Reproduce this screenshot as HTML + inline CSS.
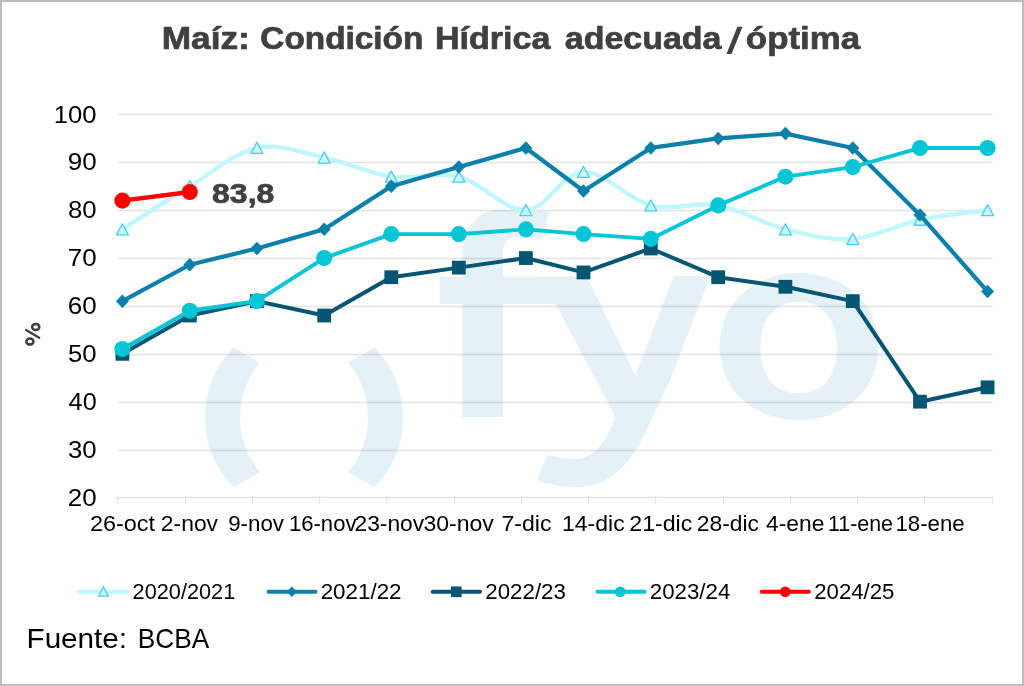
<!DOCTYPE html>
<html><head><meta charset="utf-8"><style>
html,body{margin:0;padding:0;background:#fff;}
body{width:1024px;height:686px;overflow:hidden;}
svg{display:block;will-change:transform;}
</style></head><body>
<svg width="1024" height="686" viewBox="0 0 1024 686" font-family="Liberation Sans">
<rect x="1" y="1" width="1022" height="684" fill="#fff" stroke="#bdbdbd" stroke-width="2"/>
<g><path d="M233.8,347.2 A99.0,99.0 0 0 0 233.8,487.4 L259.5,471.9 A86.2,86.2 0 0 1 259.5,362.7 Z" fill="#e4f1f7"/><path d="M374.2,347.2 A99.0,99.0 0 0 1 374.2,487.4 L348.5,471.9 A86.2,86.2 0 0 0 348.5,362.7 Z" fill="#e4f1f7"/><path d="M462.2,416.9 L462.2,304 L439.8,304 L439.8,276.7 L462.2,276.7 L462.2,262 C462.2,232 474,210 500,209.8 L549.4,211.8 L541.8,238.1 L516,237.3 C507,237.3 502.8,243 502.8,256 L502.8,276.7 L556,276.7 L556,304 L502.8,304 L502.8,416.9 Z" fill="#e4f1f7"/><path d="M540.8,276.4 L586.7,276.4 L635.4,375.4 L673.8,275.7 L710.6,275.7 L670,380 L647.3,428.6 C630,468 605,487.5 577,487.3 C562,487.2 548,484 536.7,480.6 L547.6,454.6 C556,457.5 566,459 575,459 C592,459 604,446 615.5,416.9 Z" fill="#e4f1f7"/><path fill-rule="evenodd" d="M719.70,346.60 C719.70,303.97 753.05,273.10 799.10,273.10 C845.15,273.10 878.50,303.97 878.50,346.60 C878.50,389.23 845.15,420.10 799.10,420.10 C753.05,420.10 719.70,389.23 719.70,346.60 Z M760.40,347.40 C760.40,318.94 774.95,301.50 798.70,301.50 C822.45,301.50 837.00,318.94 837.00,347.40 C837.00,375.86 822.45,393.30 798.70,393.30 C774.95,393.30 760.40,375.86 760.40,347.40 Z" fill="#e4f1f7"/></g><g fill="#000" fill-opacity="0.105"><rect x="118" y="496.70" width="874.5" height="1.6"/><rect x="118" y="449.70" width="874.5" height="1.6"/><rect x="118" y="401.70" width="874.5" height="1.6"/><rect x="118" y="353.70" width="874.5" height="1.6"/><rect x="118" y="305.70" width="874.5" height="1.6"/><rect x="118" y="257.70" width="874.5" height="1.6"/><rect x="118" y="209.70" width="874.5" height="1.6"/><rect x="118" y="161.70" width="874.5" height="1.6"/><rect x="118" y="113.70" width="874.5" height="1.6"/><rect x="117" y="497" width="1.2" height="7"/><rect x="185" y="497" width="1.2" height="7"/><rect x="252" y="497" width="1.2" height="7"/><rect x="319" y="497" width="1.2" height="7"/><rect x="386" y="497" width="1.2" height="7"/><rect x="454" y="497" width="1.2" height="7"/><rect x="521" y="497" width="1.2" height="7"/><rect x="588" y="497" width="1.2" height="7"/><rect x="655" y="497" width="1.2" height="7"/><rect x="723" y="497" width="1.2" height="7"/><rect x="790" y="497" width="1.2" height="7"/><rect x="857" y="497" width="1.2" height="7"/><rect x="924" y="497" width="1.2" height="7"/><rect x="992" y="497" width="1.2" height="7"/></g><path d="M122.40,229.34 C133.63,222.16 167.38,199.82 189.80,186.25 C212.22,172.69 234.50,152.74 256.90,147.95 C279.30,143.16 301.80,152.74 324.20,157.53 C346.60,162.31 368.87,173.49 391.30,176.68 C413.73,179.87 436.37,171.09 458.80,176.68 C481.23,182.26 505.12,210.99 525.90,210.19 C546.68,209.39 562.68,172.69 583.50,171.89 C604.32,171.09 628.35,199.82 650.80,205.40 C673.25,210.99 695.77,201.41 718.20,205.40 C740.63,209.39 762.97,223.75 785.40,229.34 C807.83,234.93 830.37,240.51 852.80,238.91 C875.23,237.32 897.53,224.55 920.00,219.76 C942.47,214.98 976.33,211.79 987.60,210.19" fill="none" stroke="#c0f7fe" stroke-width="4.4" stroke-linecap="round" stroke-linejoin="round"/><g fill="#c8f7fd" stroke="#4ccbf6" stroke-width="1.3" stroke-linejoin="round"><path d="M122.40,223.74 L128.40,234.84 L116.40,234.84 Z"/><path d="M189.80,180.65 L195.80,191.75 L183.80,191.75 Z"/><path d="M256.90,142.35 L262.90,153.45 L250.90,153.45 Z"/><path d="M324.20,151.93 L330.20,163.03 L318.20,163.03 Z"/><path d="M391.30,171.08 L397.30,182.18 L385.30,182.18 Z"/><path d="M458.80,171.08 L464.80,182.18 L452.80,182.18 Z"/><path d="M525.90,204.59 L531.90,215.69 L519.90,215.69 Z"/><path d="M583.50,166.29 L589.50,177.39 L577.50,177.39 Z"/><path d="M650.80,199.80 L656.80,210.90 L644.80,210.90 Z"/><path d="M718.20,199.80 L724.20,210.90 L712.20,210.90 Z"/><path d="M785.40,223.74 L791.40,234.84 L779.40,234.84 Z"/><path d="M852.80,233.31 L858.80,244.41 L846.80,244.41 Z"/><path d="M920.00,214.16 L926.00,225.26 L914.00,225.26 Z"/><path d="M987.60,204.59 L993.60,215.69 L981.60,215.69 Z"/></g><polyline points="122.40,301.15 189.80,264.77 256.90,248.49 324.20,229.34 391.30,186.25 458.80,167.10 525.90,147.95 583.50,191.04 650.80,147.95 718.20,138.38 785.40,133.59 852.80,147.95 920.00,214.98 987.60,291.58" fill="none" stroke="#0b80aa" stroke-width="4.2" stroke-linejoin="round" stroke-linecap="round"/><g fill="#0b80aa"><path d="M122.40,294.40 L128.95,301.15 L122.40,307.90 L115.85,301.15 Z"/><path d="M189.80,258.02 L196.35,264.77 L189.80,271.52 L183.25,264.77 Z"/><path d="M256.90,241.74 L263.45,248.49 L256.90,255.24 L250.35,248.49 Z"/><path d="M324.20,222.59 L330.75,229.34 L324.20,236.09 L317.65,229.34 Z"/><path d="M391.30,179.50 L397.85,186.25 L391.30,193.00 L384.75,186.25 Z"/><path d="M458.80,160.35 L465.35,167.10 L458.80,173.85 L452.25,167.10 Z"/><path d="M525.90,141.20 L532.45,147.95 L525.90,154.70 L519.35,147.95 Z"/><path d="M583.50,184.29 L590.05,191.04 L583.50,197.79 L576.95,191.04 Z"/><path d="M650.80,141.20 L657.35,147.95 L650.80,154.70 L644.25,147.95 Z"/><path d="M718.20,131.63 L724.75,138.38 L718.20,145.13 L711.65,138.38 Z"/><path d="M785.40,126.84 L791.95,133.59 L785.40,140.34 L778.85,133.59 Z"/><path d="M852.80,141.20 L859.35,147.95 L852.80,154.70 L846.25,147.95 Z"/><path d="M920.00,208.23 L926.55,214.98 L920.00,221.73 L913.45,214.98 Z"/><path d="M987.60,284.83 L994.15,291.58 L987.60,298.33 L981.05,291.58 Z"/></g><polyline points="122.40,353.81 189.80,315.51 256.90,301.15 324.20,315.51 391.30,277.21 458.80,267.64 525.90,258.06 583.50,272.43 650.80,248.49 718.20,277.21 785.40,286.79 852.80,301.15 920.00,401.69 987.60,387.33" fill="none" stroke="#055573" stroke-width="4.0" stroke-linejoin="round" stroke-linecap="round"/><g fill="#055573"><rect x="115.50" y="346.91" width="13.8" height="13.8"/><rect x="182.90" y="308.62" width="13.8" height="13.8"/><rect x="250.00" y="294.25" width="13.8" height="13.8"/><rect x="317.30" y="308.62" width="13.8" height="13.8"/><rect x="384.40" y="270.31" width="13.8" height="13.8"/><rect x="451.90" y="260.74" width="13.8" height="13.8"/><rect x="519.00" y="251.16" width="13.8" height="13.8"/><rect x="576.60" y="265.53" width="13.8" height="13.8"/><rect x="643.90" y="241.59" width="13.8" height="13.8"/><rect x="711.30" y="270.31" width="13.8" height="13.8"/><rect x="778.50" y="279.89" width="13.8" height="13.8"/><rect x="845.90" y="294.25" width="13.8" height="13.8"/><rect x="913.10" y="394.79" width="13.8" height="13.8"/><rect x="980.70" y="380.43" width="13.8" height="13.8"/></g><polyline points="122.40,349.03 189.80,310.73 256.90,301.15 324.20,258.06 391.30,234.13 458.80,234.13 525.90,229.34 583.50,234.13 650.80,238.91 718.20,205.40 785.40,176.68 852.80,167.10 920.00,147.95 987.60,147.95" fill="none" stroke="#05c5d7" stroke-width="3.9" stroke-linejoin="round" stroke-linecap="round"/><g fill="#05c5d7"><circle cx="122.40" cy="349.03" r="8.05"/><circle cx="189.80" cy="310.73" r="8.05"/><circle cx="256.90" cy="301.15" r="8.05"/><circle cx="324.20" cy="258.06" r="8.05"/><circle cx="391.30" cy="234.13" r="8.05"/><circle cx="458.80" cy="234.13" r="8.05"/><circle cx="525.90" cy="229.34" r="8.05"/><circle cx="583.50" cy="234.13" r="8.05"/><circle cx="650.80" cy="238.91" r="8.05"/><circle cx="718.20" cy="205.40" r="8.05"/><circle cx="785.40" cy="176.68" r="8.05"/><circle cx="852.80" cy="167.10" r="8.05"/><circle cx="920.00" cy="147.95" r="8.05"/><circle cx="987.60" cy="147.95" r="8.05"/></g><polyline points="122.40,200.62 189.80,192.00" fill="none" stroke="#ff0000" stroke-width="4.4" stroke-linejoin="round" stroke-linecap="round"/><g fill="#ff0000"><circle cx="122.40" cy="200.62" r="8.05"/><circle cx="189.80" cy="192.00" r="8.05"/></g><line x1="79.3" y1="591.8" x2="127.4" y2="591.8" stroke="#c0f7fe" stroke-width="3.9" stroke-linecap="round"/><path d="M103.5,587 L108.4,596.2 L98.6,596.2 Z" fill="#c8f7fd" stroke="#4ccbf6" stroke-width="1.3"/><line x1="268.5" y1="591.8" x2="315.5" y2="591.8" stroke="#0b80aa" stroke-width="3.9" stroke-linecap="round"/><path d="M291.9,586.55 L297.15,591.8 L291.9,597.05 L286.65,591.8 Z" fill="#0b80aa"/><line x1="432.7" y1="591.8" x2="480.1" y2="591.8" stroke="#055573" stroke-width="3.9" stroke-linecap="round"/><rect x="450.95" y="586.4499999999999" width="10.7" height="10.7" fill="#055573"/><line x1="597.5" y1="591.8" x2="644.6" y2="591.8" stroke="#05c5d7" stroke-width="3.9" stroke-linecap="round"/><circle cx="620.3" cy="591.8" r="5.35" fill="#05c5d7"/><line x1="761.8" y1="591.8" x2="808.9" y2="591.8" stroke="#ff0000" stroke-width="3.9" stroke-linecap="round"/><circle cx="785.2" cy="591.8" r="5.35" fill="#ff0000"/><g font-family="Liberation Sans"><text transform="translate(161.68,49.30) scale(1.1380,1)" font-size="31.0" font-weight="bold" fill="#404040" stroke="#404040" stroke-width="0.7" stroke-linejoin="round">Maíz:</text><text transform="translate(260.32,49.30) scale(1.0762,1)" font-size="31.0" font-weight="bold" fill="#404040" stroke="#404040" stroke-width="0.7" stroke-linejoin="round">Condición</text><text transform="translate(434.96,49.30) scale(1.0995,1)" font-size="31.0" font-weight="bold" fill="#404040" stroke="#404040" stroke-width="0.7" stroke-linejoin="round">Hídrica</text><text transform="translate(564.73,49.30) scale(1.0971,1)" font-size="31.0" font-weight="bold" fill="#404040" stroke="#404040" stroke-width="0.7" stroke-linejoin="round">adecuada</text><text transform="translate(745.86,49.30) scale(1.1241,1)" font-size="31.0" font-weight="bold" fill="#404040" stroke="#404040" stroke-width="0.7" stroke-linejoin="round">óptima</text><text transform="translate(212.09,202.60) scale(1.1706,1)" font-size="27.3" font-weight="bold" fill="#404040" stroke="#404040" stroke-width="0.7" stroke-linejoin="round">83,8</text><text transform="translate(26.53,648.40) scale(1.0480,1)" font-size="28.3" font-weight="normal" fill="#000">Fuente:</text><text transform="translate(137.80,648.40) scale(0.9276,1)" font-size="28.3" font-weight="normal" fill="#000">BCBA</text><text transform="translate(67.80,505.54) scale(1.0825,1)" font-size="24.0" font-weight="normal" fill="#000">20</text><text transform="translate(68.07,457.67) scale(1.0720,1)" font-size="24.0" font-weight="normal" fill="#000">30</text><text transform="translate(68.60,409.79) scale(1.0516,1)" font-size="24.0" font-weight="normal" fill="#000">40</text><text transform="translate(68.07,361.91) scale(1.0720,1)" font-size="24.0" font-weight="normal" fill="#000">50</text><text transform="translate(67.80,314.04) scale(1.0825,1)" font-size="24.0" font-weight="normal" fill="#000">60</text><text transform="translate(67.80,266.17) scale(1.0825,1)" font-size="24.0" font-weight="normal" fill="#000">70</text><text transform="translate(68.07,218.29) scale(1.0720,1)" font-size="24.0" font-weight="normal" fill="#000">80</text><text transform="translate(67.80,170.41) scale(1.0825,1)" font-size="24.0" font-weight="normal" fill="#000">90</text><text transform="translate(53.75,122.54) scale(1.0699,1)" font-size="24.0" font-weight="normal" fill="#000">100</text><text transform="translate(89.93,531.20) scale(1.0502,1)" font-size="22.3" font-weight="normal" fill="#000">26-oct</text><text transform="translate(160.86,531.20) scale(1.0250,1)" font-size="22.3" font-weight="normal" fill="#000">2-nov</text><text transform="translate(228.18,531.20) scale(1.0012,1)" font-size="22.3" font-weight="normal" fill="#000">9-nov</text><text transform="translate(288.93,531.20) scale(0.9905,1)" font-size="22.3" font-weight="normal" fill="#000">16-nov</text><text transform="translate(354.46,531.20) scale(1.0224,1)" font-size="22.3" font-weight="normal" fill="#000">23-nov</text><text transform="translate(423.48,531.20) scale(1.0324,1)" font-size="22.3" font-weight="normal" fill="#000">30-nov</text><text transform="translate(501.44,531.20) scale(1.0363,1)" font-size="22.3" font-weight="normal" fill="#000">7-dic</text><text transform="translate(561.96,531.20) scale(1.0326,1)" font-size="22.3" font-weight="normal" fill="#000">14-dic</text><text transform="translate(629.24,531.20) scale(1.0395,1)" font-size="22.3" font-weight="normal" fill="#000">21-dic</text><text transform="translate(696.76,531.20) scale(1.0243,1)" font-size="22.3" font-weight="normal" fill="#000">28-dic</text><text transform="translate(766.04,531.20) scale(1.0229,1)" font-size="22.3" font-weight="normal" fill="#000">4-ene</text><text transform="translate(827.99,531.20) scale(0.9585,1)" font-size="22.3" font-weight="normal" fill="#000">11-ene</text><text transform="translate(895.52,531.20) scale(0.9966,1)" font-size="22.3" font-weight="normal" fill="#000">18-ene</text><text transform="translate(132.61,598.50) scale(0.9967,1)" font-size="21.8" font-weight="normal" fill="#000">2020/2021</text><text transform="translate(320.68,598.50) scale(1.0259,1)" font-size="21.8" font-weight="normal" fill="#000">2021/22</text><text transform="translate(485.28,598.50) scale(1.0230,1)" font-size="21.8" font-weight="normal" fill="#000">2022/23</text><text transform="translate(649.79,598.50) scale(1.0227,1)" font-size="21.8" font-weight="normal" fill="#000">2023/24</text><text transform="translate(814.19,598.50) scale(1.0191,1)" font-size="21.8" font-weight="normal" fill="#000">2024/25</text></g><path d="M737.4,26.7 L742.5,26.7 L731.5,53.9 L726.5,53.9 Z" fill="#404040"/><g fill="none" stroke="#404040"><ellipse cx="35.7" cy="326.9" rx="3.6" ry="3.0" stroke-width="2.5"/><ellipse cx="29.9" cy="341.6" rx="3.6" ry="3.0" stroke-width="2.5"/><line x1="25.3" y1="329.6" x2="40.0" y2="338.2" stroke-width="2.3"/></g>
</svg>
</body></html>
